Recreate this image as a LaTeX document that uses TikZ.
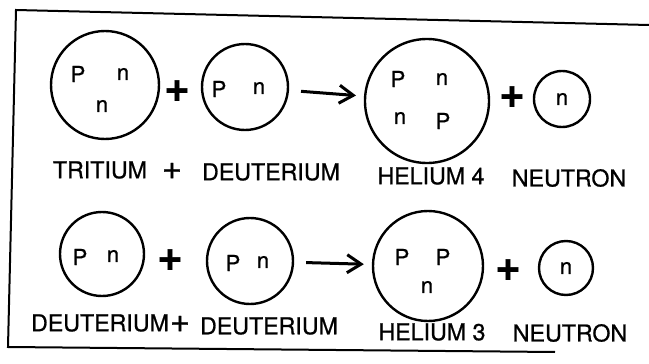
\documentclass[tikz,border=0pt]{standalone}
\usepackage{fontspec}
\setmainfont[FakeBold=0.8]{TeX Gyre Heros}
\usetikzlibrary{arrows.meta}

\tikzset{
  nucleus/.style={draw,circle,line width=1.2pt,inner sep=0pt},
  particle/.style={font=\fontsize{11}{11}\selectfont},
  label/.style={font=\fontsize{11.6}{12}\selectfont},
  bigplus/.style={font=\fontsize{22}{22}\selectfont\bfseries},
  smallplus/.style={font=\fontsize{17}{17}\selectfont},
  reacts/.style={-{Straight Barb[length=7pt,width=9pt]},line width=1.5pt,shorten <=6pt,shorten >=4pt}
}

\begin{document}
\begin{tikzpicture}[x=0.5pt,y=-0.5pt]
\useasboundingbox (0,0) rectangle (649,364);

% Frame
\draw[line width=1pt] (649,25) -- (16,10) -- (8,347) -- (555,352);

% Tritium + deuterium
\node[nucleus,minimum size=54pt] (trit) at (105,85) {};
\node[particle] (tritP) at (78,74) {P};
\node[particle] (tritNa) at (123,74) {n};
\node[particle] (tritNb) at (102,106) {n};

\node[bigplus] (plusA) at (177,91) {+};

\node[nucleus,minimum size=43pt] (deutA) at (245,87) {};
\node[particle] (deutAP) at (219,89) {P};
\node[particle] (deutAN) at (259,88) {n};

% Helium 4 + neutron
\node[nucleus,minimum size=62pt] (helA) at (427,101) {};
\node[particle] (helAPa) at (398,79) {P};
\node[particle] (helANa) at (442,79) {n};
\node[particle] (helANb) at (400,118) {n};
\node[particle] (helAPb) at (443,121) {P};

\node[bigplus] (plusB) at (512,97) {+};

\node[nucleus,minimum size=28pt] (neutA) at (562,99) {};
\node[particle] (neutAN) at (neutA) {n};

\draw[reacts] (deutA) -- (helA);

% Names, first reaction
\node[label] (nTrit) at (100,170) {TRITIUM};
\node[smallplus] (nPlusA) at (172,171) {+};
\node[label] (nDeutA) at (271,172) {DEUTERIUM};
\node[label] (nHelA) at (431,176) {HELIUM 4};
\node[label] (nNeutA) at (569,178) {NEUTRON};

% Deuterium + deuterium
\node[nucleus,minimum size=42pt] (deutB) at (102,254) {};
\node[particle] (deutBP) at (80,257) {P};
\node[particle] (deutBN) at (113,256) {n};

\node[bigplus] (plusC) at (170,260) {+};

\node[nucleus,minimum size=43pt] (deutC) at (250,261) {};
\node[particle] (deutCP) at (233,263) {P};
\node[particle] (deutCN) at (263,262) {n};

% Helium 3 + neutron
\node[nucleus,minimum size=55pt] (helB) at (428,266) {};
\node[particle] (helBPa) at (402,257) {P};
\node[particle] (helBPb) at (443,257) {P};
\node[particle] (helBN) at (427,287) {n};

\node[bigplus] (plusD) at (508,270) {+};

\node[nucleus,minimum size=27pt] (neutB) at (566,268) {};
\node[particle] (neutBN) at (neutB) {n};

\draw[reacts] (deutC) -- (helB);

% Names, second reaction
\node[label] (nDeutB) at (100,323) {DEUTERIUM};
\node[smallplus] (nPlusB) at (180,324) {+};
\node[label] (nDeutC) at (269,326) {DEUTERIUM};
\node[label] (nHelB) at (432,332) {HELIUM 3};
\node[label] (nNeutB) at (570,333) {NEUTRON};

\end{tikzpicture}
\end{document}
